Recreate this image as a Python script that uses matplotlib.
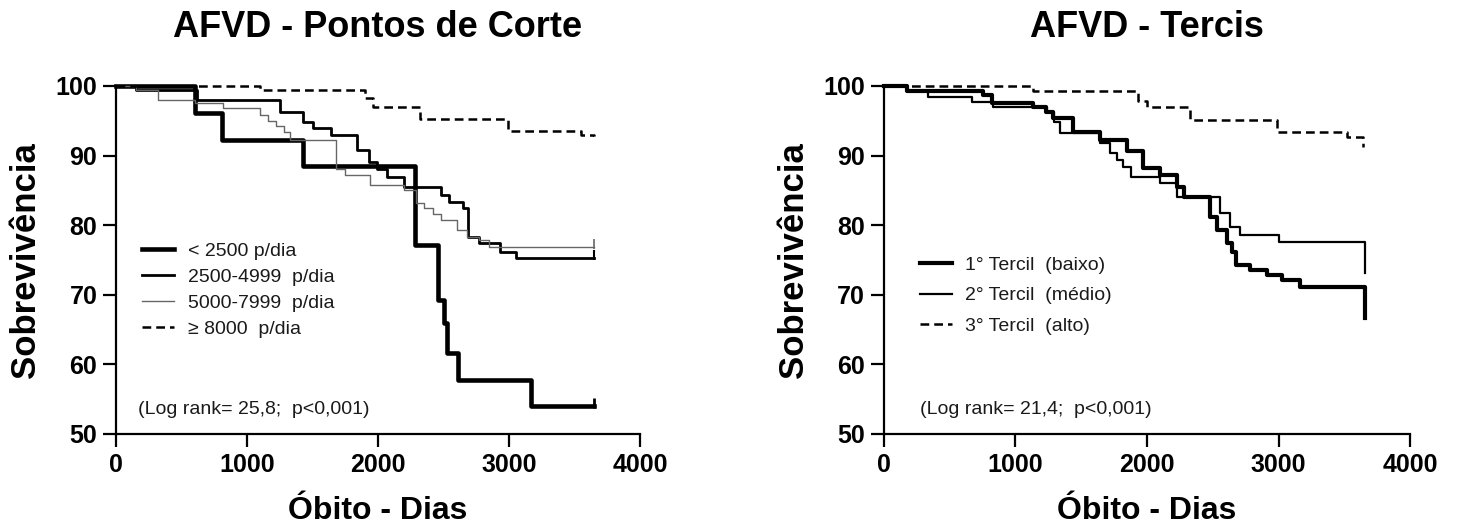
import matplotlib
matplotlib.use("Agg")
import matplotlib.pyplot as plt

plt.rcParams["font.family"] = ["Liberation Sans", "DejaVu Sans"]

# left panel: AFVD - Pontos de Corte (time in days, survival %)
lt1_t = [0, 600, 810, 1430, 2280, 2460, 2500, 2530, 2610, 3170, 3650]
lt1_s = [100, 96.1, 92.3, 88.5, 77.2, 69.3, 66.0, 61.6, 57.7, 54.0, 54.0]

lt2_t = [0, 150, 620, 1250, 1430, 1500, 1640, 1840, 1930, 1990, 2070, 2200, 2480, 2540, 2650, 2690, 2770, 2930, 3050, 3650]
lt2_s = [100, 99.4, 98.0, 96.2, 94.8, 94.0, 93.0, 90.8, 89.1, 88.0, 86.9, 85.5, 84.3, 83.3, 82.5, 78.3, 77.4, 76.2, 75.3, 75.3]

lt3_t = [0, 150, 320, 600, 820, 1100, 1160, 1220, 1280, 1330, 1680, 1750, 1940, 2200, 2290, 2350, 2420, 2480, 2600, 2680, 2770, 2850, 3650]
lt3_s = [100, 99.4, 98.0, 97.5, 96.8, 95.9, 95.0, 94.2, 93.4, 92.2, 88.0, 87.2, 85.8, 85.0, 83.2, 82.5, 81.6, 80.7, 79.3, 78.3, 77.9, 76.9, 76.9]

lt4_t = [0, 1100, 1900, 1960, 2320, 2990, 3550, 3650]
lt4_s = [100, 99.4, 98.2, 97.0, 95.3, 93.5, 93.0, 92.8]

left_labels = ["< 2500 p/dia", "2500-4999  p/dia", "5000-7999  p/dia", "\u2265 8000  p/dia"]

# right panel: AFVD - Tercis
rt1_t = [0, 175, 750, 820, 1130, 1230, 1285, 1440, 1640, 1850, 1970, 2100, 2230, 2280, 2480, 2530, 2610, 2650, 2680, 2780, 2910, 3030, 3160, 3655]
rt1_s = [100, 99.3, 98.7, 97.6, 97.0, 96.3, 95.4, 93.4, 92.2, 90.6, 88.2, 87.2, 85.5, 84.1, 81.2, 79.3, 77.4, 76.2, 74.3, 73.6, 72.8, 72.1, 71.1, 66.7]

rt2_t = [0, 175, 335, 670, 830, 1240, 1290, 1340, 1640, 1720, 1770, 1820, 1880, 2100, 2230, 2555, 2630, 2710, 3000, 3655]
rt2_s = [100, 99.3, 98.4, 97.7, 97.0, 96.3, 94.8, 93.2, 91.8, 90.4, 89.4, 88.4, 86.9, 86.0, 84.1, 81.7, 79.7, 78.6, 77.6, 73.1]

rt3_t = [0, 1130, 1930, 2000, 2330, 2990, 3520, 3645]
rt3_s = [100, 99.3, 97.8, 97.0, 95.1, 93.4, 92.7, 91.2]

right_labels = ["1\u00b0 Tercil  (baixo)", "2\u00b0 Tercil  (m\u00e9dio)", "3\u00b0 Tercil  (alto)"]

dash = (0, (3.5, 2))

fig = plt.figure(figsize=(14.58, 5.31), dpi=100)
ax1 = fig.add_axes([0.0796, 0.1827, 0.3594, 0.6554])
ax2 = fig.add_axes([0.6063, 0.1827, 0.3608, 0.6554])

ax1.step(lt1_t, lt1_s, where="post", color="black", lw=3.3, label=left_labels[0], clip_on=False)
ax1.step(lt2_t, lt2_s, where="post", color="black", lw=2.0, label=left_labels[1], clip_on=False)
ax1.step(lt3_t, lt3_s, where="post", color="#666666", lw=1.0, label=left_labels[2], clip_on=False)
ax1.step(lt4_t, lt4_s, where="post", color="black", lw=1.8, ls=dash, label=left_labels[3], clip_on=False)

# censor ticks at the end of the follow-up
for t, s, c, w in [(lt1_t, lt1_s, "black", 2), (lt2_t, lt2_s, "black", 1.5), (lt3_t, lt3_s, "#666666", 1.2)]:
    ax1.plot(t[-1], s[-1] + 0.4, marker="|", ms=7, mew=w, color=c, clip_on=False)

ax2.step(rt1_t, rt1_s, where="post", color="black", lw=3.0, label=right_labels[0], clip_on=False)
ax2.step(rt2_t, rt2_s, where="post", color="black", lw=1.6, label=right_labels[1], clip_on=False)
ax2.step(rt3_t, rt3_s, where="post", color="black", lw=1.8, ls=dash, label=right_labels[2], clip_on=False)

titles = ["AFVD - Pontos de Corte", "AFVD - Tercis"]
logranks = ["(Log rank= 25,8;  p<0,001)", "(Log rank= 21,4;  p<0,001)"]

for ax, title, lr in zip([ax1, ax2], titles, logranks):
    ax.set_xlim(0, 4000)
    ax.set_ylim(50, 100)
    ax.set_xticks([0, 1000, 2000, 3000, 4000])
    ax.set_yticks([50, 60, 70, 80, 90, 100])
    for s in ["top", "right"]:
        ax.spines[s].set_visible(False)
    for s in ["left", "bottom"]:
        ax.spines[s].set_linewidth(1.6)
    ax.tick_params(direction="out", length=9.5, width=1.6, labelsize=18, pad=4)
    for lab in ax.get_xticklabels() + ax.get_yticklabels():
        lab.set_fontweight("bold")
    ax.set_title(title, fontsize=26, fontweight="bold", pad=35)
    ax.set_xlabel("\u00d3bito - Dias", fontsize=23, fontweight="bold", labelpad=14)
    ax.set_ylabel("Sobreviv\u00eancia", fontsize=25, fontweight="bold", labelpad=10)

ax1.text(0.042, 0.069, logranks[0], transform=ax1.transAxes, fontsize=14, va="center", color="#1a1a1a")
ax2.text(0.068, 0.069, logranks[1], transform=ax2.transAxes, fontsize=14, va="center", color="#1a1a1a")

ax1.legend(loc="upper left", bbox_to_anchor=(0.05, 0.55), frameon=False, fontsize=14,
           handlelength=1.65, handletextpad=0.7, labelspacing=0.42, borderpad=0, borderaxespad=0,
           labelcolor="#1a1a1a")
ax2.legend(loc="upper left", bbox_to_anchor=(0.068, 0.51), frameon=False, fontsize=14,
           handlelength=1.65, handletextpad=0.7, labelspacing=0.65, borderpad=0, borderaxespad=0,
           labelcolor="#1a1a1a")

fig.savefig("out.png", dpi=100)
